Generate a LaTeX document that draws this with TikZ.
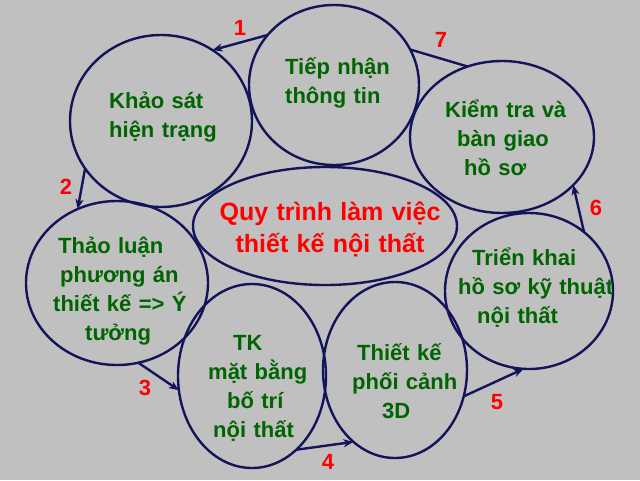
\documentclass[tikz,border=0pt]{standalone}
\usepackage{fontspec}
\setmainfont{Liberation Sans}
\usepackage{tikz}
\usetikzlibrary{shapes.geometric,arrows.meta}
\definecolor{bggray}{RGB}{192,192,192}
\definecolor{ink}{RGB}{20,20,90}
\definecolor{leaf}{RGB}{0,100,0}
\tikzstyle{oval} = [ellipse, draw=ink, line width=2.4pt, inner sep=0pt, outer sep=0pt]
\tikzstyle{txt} = [text=leaf, font=\bfseries\fontsize{22}{29}\selectfont, text width=7cm, align=left, anchor=base west, inner sep=0pt]
\tikzstyle{title} = [text=red, font=\bfseries\fontsize{25}{32}\selectfont, text width=9cm, align=center, anchor=base, inner sep=0pt]
\tikzstyle{num} = [text=red, font=\bfseries\fontsize{22}{26}\selectfont, inner sep=0pt]
\tikzstyle{link} = [draw=ink, line width=2.4pt, -{Stealth[length=10pt,width=8pt,inset=3pt]}]

\begin{document}
\begin{tikzpicture}[x=1pt, y=-1pt]
	\fill[bggray] (0,0) rectangle (640,480);
	\useasboundingbox (0,0) rectangle (640,480);

	% the eight ovals
	\node[oval, minimum width=170pt, minimum height=160pt] (tiepnhan) at (334,85) {};
	\node[oval, minimum width=182pt, minimum height=172pt] (khaosat) at (161,121) {};
	\node[oval, minimum width=184pt, minimum height=152pt] (kiemtra) at (502,137) {};
	\node[oval, minimum width=264pt, minimum height=118pt] (quytrinh) at (325,226) {};
	\node[oval, minimum width=182pt, minimum height=164pt] (thaoluan) at (117,283) {};
	\node[oval, minimum width=148pt, minimum height=184pt] (matbang) at (252,376) {};
	\node[oval, minimum width=144pt, minimum height=176pt] (phoicanh) at (395,370) {};
	\node[oval, minimum width=168pt, minimum height=156pt] (trienkhai) at (529,291) {};

	% steps
	\draw[link] (tiepnhan.143.7) -- (khaosat.54.9);
	\draw[link] (khaosat.212.1) -- (thaoluan.118.1);
	\draw[link] (thaoluan.285.2) -- (matbang.191);
	\draw[link] (matbang.301.1) -- (phoicanh.240.5);
	\draw[link] (phoicanh.339.8) -- (trienkhai.266.5);
	\draw[link] (trienkhai.47.4) -- (kiemtra.326);
	\draw[draw=ink, line width=2.4pt] (tiepnhan.25.7) -- (kiemtra.116.9);

	\node[num] (n1) at (240,28) {1};
	\node[num] (n2) at (66,187) {2};
	\node[num] (n3) at (145,388) {3};
	\node[num] (n4) at (328,462) {4};
	\node[num] (n5) at (497,402) {5};
	\node[num] (n6) at (596,208) {6};
	\node[num] (n7) at (441,40) {7};

	% texts
	\node[txt] (ttiepnhan) at (285,74) {Tiếp nhận\\thông tin};
	\node[txt] (tkhaosat) at (109,108) {Khảo sát\\hiện trạng};
	\node[txt] (tkiemtra) at (445,117) {Kiểm tra và\\\hspace*{12pt}bàn giao\\\hspace*{19pt}hồ sơ};
	\node[title] (tquytrinh) at (330,220) {Quy trình làm việc\\thiết kế nội thất};
	\node[txt] (tthaoluan) at (53,253) {\hspace*{5pt}Thảo luận\\\hspace*{7pt}phương án\\thiết kế => Ý\\\hspace*{32pt}tưởng};
	\node[txt] (tmatbang) at (208,350) {\hspace*{25pt}TK\\mặt bằng\\\hspace*{19pt}bố trí\\\hspace*{5pt}nội thất};
	\node[txt] (tphoicanh) at (352,360) {\hspace*{5pt}Thiết kế\\phối cảnh\\\hspace*{30pt}3D};
	\node[txt] (ttrienkhai) at (458,265) {\hspace*{14pt}Triển khai\\hồ sơ kỹ thuật\\\hspace*{19pt}nội thất};
\end{tikzpicture}
\end{document}
